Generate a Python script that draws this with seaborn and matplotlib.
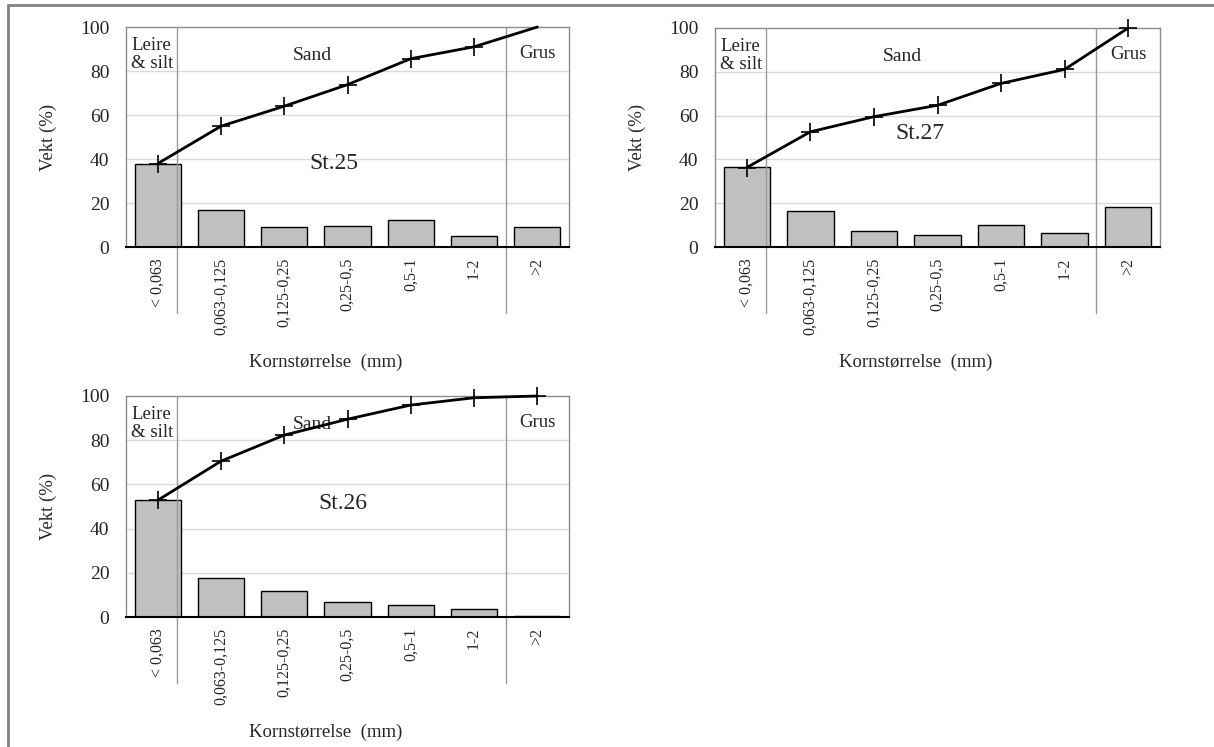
import numpy as np
import pandas as pd
import seaborn as sns
import matplotlib.pyplot as plt
from matplotlib.lines import Line2D

categories = ['< 0,063', '0,063-0,125', '0,125-0,25', '0,25-0,5', '0,5-1', '1-2', '>2']

st25_pct = [37.9, 17.0, 9.1, 9.5, 12.4, 5.0, 9.1]
st25_cum = [37.9, 54.9, 64.0, 73.8, 85.6, 91.0, 100.0]
st27_pct = [36.7, 16.3, 7.2, 5.3, 9.9, 6.4, 18.4]
st27_cum = [36.3, 52.6, 59.5, 64.7, 74.7, 81.1, 100.0]
st26_pct = [52.8, 17.5, 11.9, 6.9, 5.6, 3.8, 0.5]
st26_cum = [52.8, 70.5, 82.3, 89.5, 95.9, 99.2, 100.0]

sns.set_theme(style="white")
plt.rcParams['font.family'] = ['Liberation Serif', 'DejaVu Serif']

fig = plt.figure(figsize=(12.14, 7.47), dpi=100)
W, H = 1214, 747


def panel(rect_px, name, pct, cum, label_pos, hide_last=False):
    l, t, r, b = rect_px
    ax = fig.add_axes([l / W, 1 - b / H, (r - l) / W, (b - t) / H])
    df = pd.DataFrame({'Kornstorrelse': categories, 'Vekt': pct})
    sns.barplot(data=df, x='Kornstorrelse', y='Vekt', color='#c0c0c0', saturation=1,
                edgecolor='black', linewidth=1, width=0.73, ax=ax, zorder=2)
    sns.lineplot(x=np.arange(len(cum)), y=cum, color='black', linewidth=2, marker='+',
                 markersize=13, markeredgewidth=1.2, markeredgecolor='black',
                 markevery=list(range(6)) if hide_last else None,
                 ax=ax, zorder=4, clip_on=False)
    ax.set_xlim(-0.5, 6.5)
    ax.set_ylim(0, 100)
    ax.set_yticks([0, 20, 40, 60, 80, 100])
    for y in [20, 40, 60, 80]:
        ax.axhline(y, color='#d9d9d9', linewidth=1, zorder=0)
    for s in ['left', 'top', 'right']:
        ax.spines[s].set_color('#8c8c8c')
        ax.spines[s].set_linewidth(1)
    ax.spines['bottom'].set_color('black')
    ax.spines['bottom'].set_linewidth(1.5)
    ax.spines['bottom'].set_zorder(5)
    ax.tick_params(axis='y', length=0, pad=12, labelsize=14)
    ax.tick_params(axis='x', which='major', length=0, pad=8, labelsize=11.5, labelrotation=90)
    ax.set_xticks(np.arange(0.5, 6, 1), minor=True)
    ax.tick_params(axis='x', which='minor', length=4, width=1, direction='out', color='black')
    for xd in [0.31, 5.5]:
        ax.axvline(xd, ymin=-0.30, ymax=1, color='#999999', linewidth=1, clip_on=False, zorder=3)
    ax.set_ylabel('Vekt (%)', fontsize=13.5)
    ax.set_xlabel('Kornstørrelse  (mm)', fontsize=13.5)
    ax.yaxis.set_label_coords(-0.155, 0.5)
    ax.xaxis.set_label_coords(0.45, -0.485)
    ax.text(-0.42, 87.5, 'Leire\n& silt', ha='left', va='center', fontsize=13.5, linespacing=1.1)
    ax.text(2.45, 87, 'Sand', ha='center', va='center', fontsize=14)
    ax.text(6.0, 88, 'Grus', ha='center', va='center', fontsize=13.5)
    ax.text(label_pos[0], label_pos[1], name, ha='center', va='center', fontsize=17)
    return ax


panel((126, 27, 569, 247), 'St.25', st25_pct, st25_cum, (2.79, 38), hide_last=True)
panel((715, 28, 1160, 247), 'St.27', st27_pct, st27_cum, (2.73, 52))
panel((126, 396, 569, 617), 'St.26', st26_pct, st26_cum, (2.93, 51.5))

# outer frame (left and top edges only)
fig.add_artist(Line2D([8 / W, 8 / W], [0, 1 - 5 / H], transform=fig.transFigure,
                      color='#808080', linewidth=2))
fig.add_artist(Line2D([8 / W, 1], [1 - 5 / H, 1 - 5 / H], transform=fig.transFigure,
                      color='#808080', linewidth=2))

fig.savefig('out.png', dpi=100)
